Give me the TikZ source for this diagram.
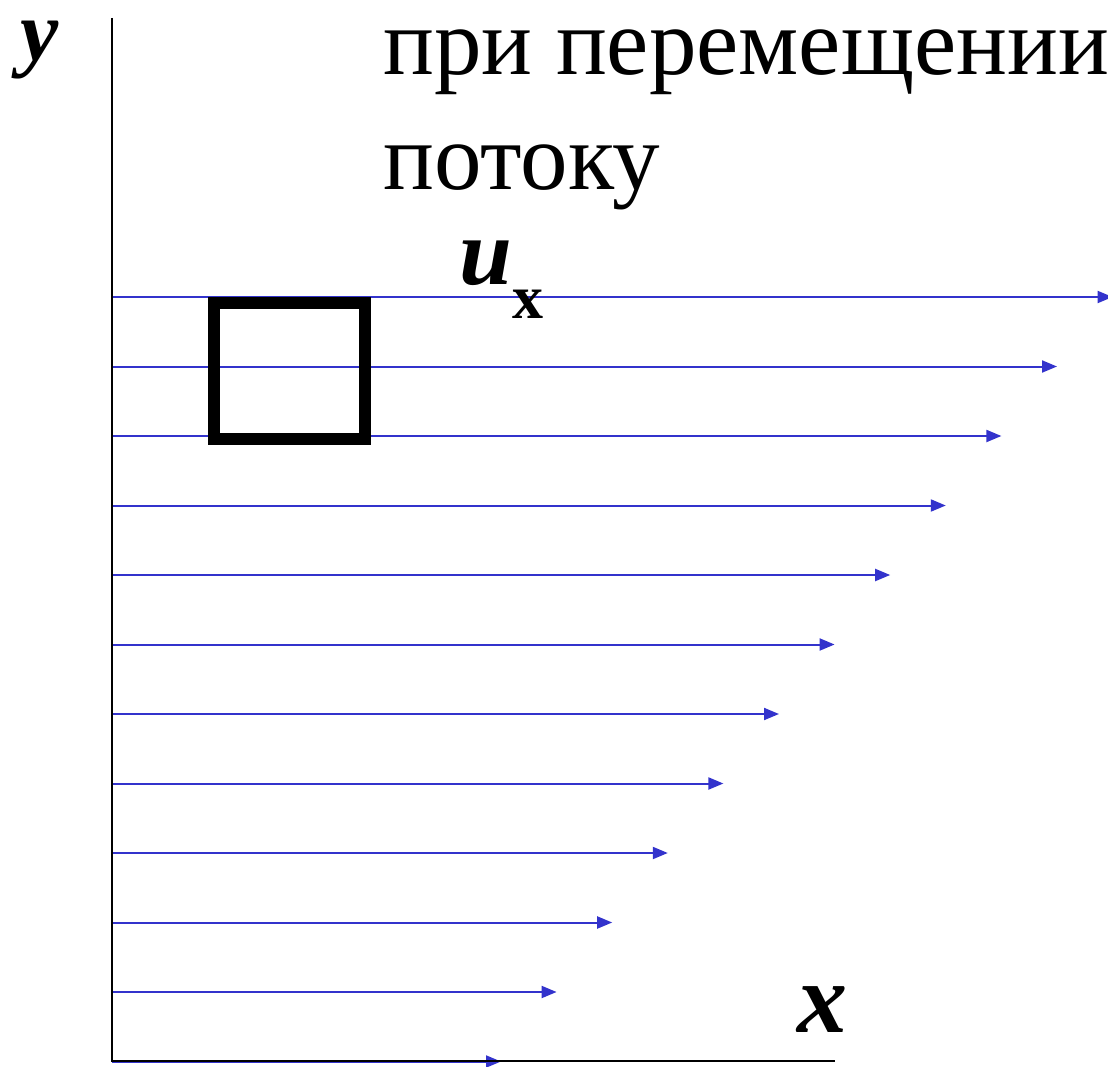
\documentclass[tikz,border=0pt]{standalone}
\usepackage{fontspec}
\setmainfont{Liberation Serif}
\usetikzlibrary{arrows.meta}
\definecolor{flowblue}{RGB}{51,51,204}
\tikzset{
  flow/.style={draw=flowblue, line width=2pt, -{Triangle[length=15pt,width=12pt]}},
  axis/.style={draw=black, line width=2pt},
  elem/.style={draw=black, line width=12pt},
  lbl/.style={inner sep=0pt, anchor=base west, font=\fontsize{95}{110}\selectfont},
  big/.style={inner sep=0pt, anchor=base west, font=\fontsize{100}{115}\selectfont},
  ybig/.style={inner sep=0pt, anchor=base west, text height=50pt, text depth=14pt, font=\fontsize{86}{96}\selectfont},
  sub/.style={inner sep=0pt, anchor=base west, font=\fontsize{62}{72}\selectfont},
}
\begin{document}
\begin{tikzpicture}[x=1pt,y=-1pt]
\useasboundingbox (0,0) rectangle (1108,1067);
% velocity profile arrows
\foreach \i in {0,...,11} {
  \coordinate (s\i) at (112,{297+69.5*\i});
  \coordinate (e\i) at ({1112.6-55.6*\i},{297+69.5*\i});
  \draw[flow] (s\i) -- (e\i);
}
% axes
\coordinate (o) at (112,1061);
\coordinate (ytop) at (112,18);
\coordinate (xend) at (835,1061);
\draw[axis] (ytop) -- (o) -- (xend);
% fluid element
\draw[elem] (214,303) rectangle (365,439);
% labels
\node[ybig] (ylab) at (20,61) {\textbf{\textit{y}}};
\node[big] (xlab) at (797,1032) {\textbf{\textit{x}}};
\node[lbl] (t1) at (383,75) {при перемещении};
\node[lbl] (t2) at (383,190) {потоку};
\node[lbl] (u) at (459,285) {\textbf{\textit{u}}};
\node[sub] (ux) at (512,319) {\textbf{x}};
\end{tikzpicture}
\end{document}
